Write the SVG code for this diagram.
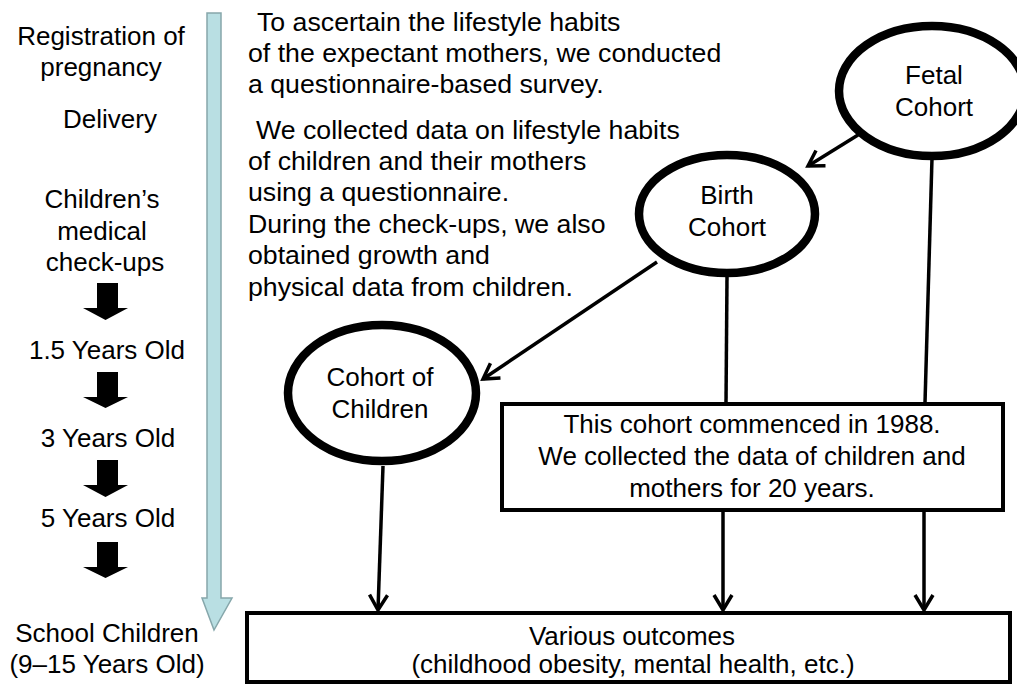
<svg xmlns="http://www.w3.org/2000/svg" width="1017" height="686" viewBox="0 0 1017 686">
<defs>
<style>
text{font-family:"Liberation Sans",Arial,sans-serif;font-size:26px;fill:#000}
.n{font-size:26.7px}
.m{text-anchor:middle}
.ell{fill:#fff;stroke:#000;stroke-width:8.5}
.box{fill:#fff;stroke:#000;stroke-width:4}
.con{fill:none;stroke:#000;stroke-width:3.5}
.blk{fill:#000}
</style>
<marker id="ah" viewBox="0 0 22 22" refX="19" refY="11" markerWidth="22" markerHeight="22" markerUnits="userSpaceOnUse" orient="auto">
<path d="M4 2 L19 11 L4 20" fill="none" stroke="#000" stroke-width="3.5"/>
</marker>
</defs>
<rect width="1017" height="686" fill="#fff"/>

<g id="timeline">
<path d="M207 13 H221 V598 H232 L214 630 L202 598 H207 Z" fill="#b9dfe3" stroke="#86a7ab" stroke-width="1.5"/>
</g>

<g id="left-labels">
<text class="m" x="101" y="45">Registration of</text>
<text class="m" x="101" y="76">pregnancy</text>
<text class="m" x="110" y="128">Delivery</text>
<text class="m" x="102" y="208">Children’s</text>
<text class="m" x="102" y="240">medical</text>
<text class="m" x="105" y="271">check-ups</text>
<text class="m" x="107" y="359">1.5 Years Old</text>
<text class="m" x="108" y="447">3 Years Old</text>
<text class="m" x="108" y="527">5 Years Old</text>
<text class="m" x="107" y="642">School Children</text>
<text class="m" x="107" y="673">(9–15 Years Old)</text>
</g>

<g id="step-arrows">
<path class="blk" d="M97 283 H118 V308 H128 L105.5 320 L83 308 H97 Z"/>
<path class="blk" d="M97 372 H118 V397 H128 L105.5 408 L83 397 H97 Z"/>
<path class="blk" d="M97 460 H118 V485 H128 L105.5 497 L83 485 H97 Z"/>
<path class="blk" d="M97 542 H118 V567 H128 L105.5 578 L83 567 H97 Z"/>
</g>

<g id="notes">
<text class="n" x="257" y="31">To ascertain the lifestyle habits</text>
<text class="n" x="248" y="62">of the expectant mothers, we conducted</text>
<text class="n" x="248" y="93">a questionnaire-based survey.</text>
<text class="n" x="256" y="139">We collected data on lifestyle habits</text>
<text class="n" x="248" y="170">of children and their mothers</text>
<text class="n" x="248" y="201">using a questionnaire.</text>
<text class="n" x="248" y="233">During the check-ups, we also</text>
<text class="n" x="248" y="264">obtained growth and</text>
<text class="n" x="248" y="296">physical data from children.</text>
</g>

<g id="connectors">
<line class="con" x1="858" y1="135" x2="808" y2="166" marker-end="url(#ah)"/>
<line class="con" x1="657" y1="262" x2="483" y2="379" marker-end="url(#ah)"/>
<line class="con" x1="727" y1="277" x2="726" y2="403"/>
<line class="con" x1="932" y1="158" x2="925" y2="403"/>
<line class="con" x1="723" y1="511" x2="723" y2="610" marker-end="url(#ah)"/>
<line class="con" x1="924" y1="511" x2="924" y2="610" marker-end="url(#ah)"/>
<line class="con" x1="383" y1="466" x2="378" y2="610" marker-end="url(#ah)"/>
</g>

<g id="fetal-cohort">
<ellipse class="ell" cx="932" cy="91" rx="93" ry="65"/>
<text class="m" x="934" y="84">Fetal</text>
<text class="m" x="934" y="116">Cohort</text>
</g>

<g id="birth-cohort">
<ellipse class="ell" cx="727" cy="214" rx="88" ry="59"/>
<text class="m" x="727" y="204">Birth</text>
<text class="m" x="727" y="236">Cohort</text>
</g>

<g id="children-cohort">
<ellipse class="ell" cx="382" cy="393" rx="94" ry="68"/>
<text class="m" x="380" y="386">Cohort of</text>
<text class="m" x="380" y="418">Children</text>
</g>

<g id="cohort-note">
<rect class="box" x="502" y="404" width="501" height="106"/>
<text class="m" x="752" y="433">This cohort commenced in 1988.</text>
<text class="m" x="752" y="465">We collected the data of children and</text>
<text class="m" x="752" y="497">mothers for 20 years.</text>
</g>

<g id="outcomes">
<rect class="box" x="247" y="613" width="763" height="69"/>
<text class="m" x="632" y="645">Various  outcomes</text>
<text class="m" x="633" y="673">(childhood obesity, mental health, etc.)</text>
</g>
</svg>
